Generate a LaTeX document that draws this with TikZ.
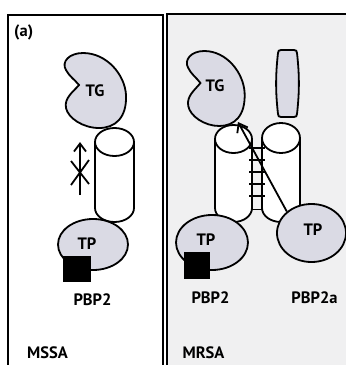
\documentclass[tikz,border=0pt]{standalone}
\usepackage{fontspec}
\setmainfont{PT Sans}
\usetikzlibrary{arrows.meta,shapes.geometric}

\definecolor{protfill}{RGB}{218,218,228}
\definecolor{panelgray}{RGB}{240,240,241}

\tikzset{
  outline/.style={draw=black, line width=1.8pt},
  protein/.style={outline, fill=protfill},
  tube/.style={outline, fill=white},
  tpshape/.style={protein, ellipse, inner sep=0pt},
  block/.style={fill=black, draw=none, minimum size=0pt, inner sep=0pt},
  lbl/.style={font=\bfseries\fontsize{16.5}{16.5}\selectfont, inner sep=0pt},
  frame/.style={draw=black, line width=2pt},
  signal/.style={line width=1.8pt, -{Straight Barb[length=8pt,width=12pt,line width=1.8pt]}},
  rung/.style={line width=1.8pt},
  % kidney-shaped transglycosylase domain, centred on the origin
  tgdomain/.pic={
    \path[protein] (-16,-5) .. controls (-22,2) and (-31,8) .. (-29,18)
      .. controls (-27,28) and (-12,38) .. (4,38)
      .. controls (20,38) and (32,28) .. (31,5)
      .. controls (30,-15) and (12,-37) .. (-12,-37)
      .. controls (-26,-37) and (-34,-28) .. (-29,-20)
      .. controls (-26,-14) and (-20,-10) .. (-16,-5) -- cycle;
  },
}

\begin{document}
\begin{tikzpicture}[x=1pt,y=-1pt]
\useasboundingbox (0,0) rectangle (346,365);
\fill[white] (0,0) rectangle (346,365);
\fill[panelgray] (167,14) rectangle (346,365);

% panel frames
\draw[frame] (8,365) -- (8,15) -- (163,15) -- (163,365);
\draw[frame] (167,365) -- (167,14) -- (346,14);

\node[lbl, anchor=west] (tag) at (14,32) {(a)};

% ---------------- MSSA ----------------
% transmembrane cylinder
\path[tube] (95,142) -- (95,208) .. controls (95,215.7) and (103.7,222) .. (114.5,222)
  .. controls (125.3,222) and (134,215.7) .. (134,208) -- (134,142);
\node[tube, ellipse, minimum width=39, minimum height=28, inner sep=0pt] (capA) at (114.5,142) {};

\pic at (95,90) {tgdomain};
\node[lbl] (tgA) at (95,91) {TG};

% blocked transglycosylation signal
\coordinate (blkS) at (80,195);
\coordinate (blkE) at (80,142);
\draw[signal] (blkS) -- (blkE);
\coordinate (xa1) at (71,161);
\coordinate (xa2) at (89,184);
\coordinate (xb1) at (89,160);
\coordinate (xb2) at (71,185);
\draw[line width=1.8pt] (xa1) -- (xa2) (xb1) -- (xb2);

\node[tpshape, minimum width=70, minimum height=51] (tpA) at (93,244.5) {};
\node[lbl] (tpAt) at (87,244) {TP};
\node[block, minimum width=28, minimum height=26] (sqA) at (77,269) {};
\node[lbl] (pbpA) at (92.5,300) {PBP2};
\node[lbl] (mssa) at (47.5,353) {MSSA};

% ---------------- MRSA ----------------
% left cylinder (PBP2)
\path[tube] (215,139) -- (215,208) .. controls (215,215.7) and (223.3,222) .. (233.5,222)
  .. controls (243.7,222) and (252,215.7) .. (252,208) -- (252,139);
\node[tube, ellipse, minimum width=37, minimum height=28, inner sep=0pt] (capB) at (233.5,139) {};
% right cylinder (PBP2a)
\path[tube] (262,138) -- (262,208) .. controls (262,215.7) and (270.5,222) .. (281,222)
  .. controls (291.5,222) and (300,215.7) .. (300,208) -- (300,138);
\node[tube, ellipse, minimum width=38, minimum height=30, inner sep=0pt] (capC) at (281,138) {};

% crossbridges between the two cylinders
\foreach \yy in {148,160,172,184,196} {
  \draw[rung] (249,\yy) -- (265,\yy);
}
\draw[rung] (252,209.5) -- (262,209.5);

\pic[xscale=0.94] at (215.5,88) {tgdomain};
\node[lbl] (tgB) at (215,86) {TG};

% PBP2a non-penicillin-binding head
\path[protein] (281,50) -- (294,50) .. controls (296,50) and (297,51) .. (297,53)
  .. controls (299.5,75) and (299.5,92) .. (297,114)
  .. controls (297,116) and (296,117) .. (294,117) -- (281,117)
  .. controls (279,117) and (278,116) .. (278,114)
  .. controls (275.5,92) and (275.5,75) .. (278,53)
  .. controls (278,51) and (279,50) .. (281,50) -- cycle;

\node[tpshape, minimum width=72, minimum height=55] (tpB) at (212,242.5) {};
\node[lbl] (tpBt) at (206,240) {TP};
\node[block, minimum width=26, minimum height=27] (sqB) at (197,265.5) {};

\node[tpshape, minimum width=69, minimum height=58] (tpC) at (311.5,233) {};
\node[lbl] (tpCt) at (313,230) {TP};

\coordinate (tgBbase) at (238,122);
\draw[signal] (tpC.139) -- (tgBbase);

\node[lbl] (pbpB) at (210.5,298) {PBP2};
\node[lbl] (pbpC) at (314.5,298) {PBP2a};
\node[lbl] (mrsa) at (203.5,353) {MRSA};
\end{tikzpicture}
\end{document}
